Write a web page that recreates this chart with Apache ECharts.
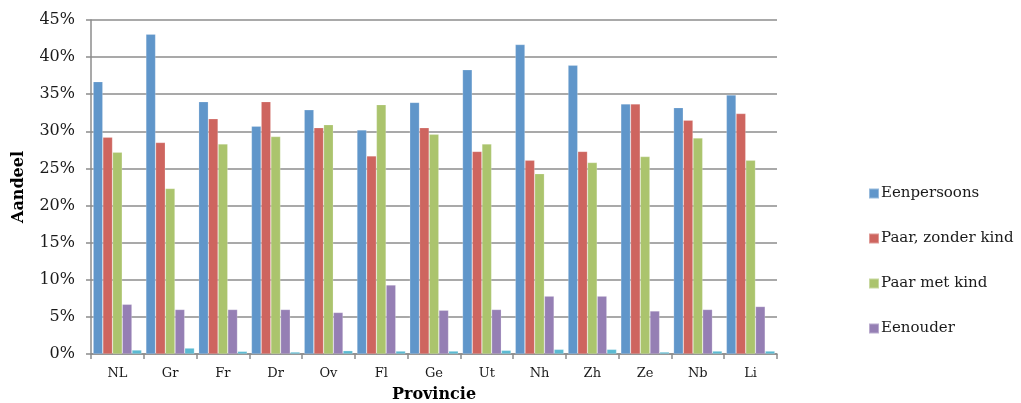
<!DOCTYPE html>
<html>
<head>
<meta charset="utf-8">
<script src="https://cdn.jsdelivr.net/npm/echarts@6/dist/echarts.min.js"></script>
<style>
  html, body { margin: 0; padding: 0; background: #fff; }
  #chart { width: 1021px; height: 403px; }
</style>
</head>
<body>
<div id="chart"></div>
<script>
// Huishoudtypen per provincie (aandeel in %)
const provincies = ['NL', 'Gr', 'Fr', 'Dr', 'Ov', 'Fl', 'Ge', 'Ut', 'Nh', 'Zh', 'Ze', 'Nb', 'Li'];
const eenpersoons = [36.7, 43.1, 34.0, 30.7, 32.9, 30.2, 33.9, 38.3, 41.7, 38.9, 33.7, 33.2, 34.9];
const paarZonderKind = [29.2, 28.5, 31.7, 34.0, 30.5, 26.7, 30.5, 27.3, 26.1, 27.3, 33.7, 31.5, 32.4];
const paarMetKind = [27.2, 22.3, 28.3, 29.3, 30.9, 33.6, 29.6, 28.3, 24.3, 25.8, 26.6, 29.1, 26.1];
const eenouder = [6.7, 6.0, 6.0, 6.0, 5.6, 9.3, 5.9, 6.0, 7.8, 7.8, 5.8, 6.0, 6.4];
const overig = [0.54, 0.8, 0.36, 0.27, 0.45, 0.4, 0.4, 0.5, 0.63, 0.63, 0.27, 0.4, 0.4];
const yTicks = [0, 5, 10, 15, 20, 25, 30, 35, 40, 45];

const font = '"DejaVu Serif", "Liberation Serif", serif';
const colors = ['#6096CA', '#CE655F', '#ABC46D', '#957FB4', '#5BBAD2'];

function bar(name, data, color) {
  return {
    name: name,
    type: 'bar',
    data: data,
    barGap: '0%',
    barCategoryGap: '8%',
    itemStyle: { color: color, borderColor: 'rgba(255,255,255,0.35)', borderWidth: 0.6 }
  };
}

const chart = echarts.init(document.getElementById('chart'), null, { renderer: 'canvas' });
chart.setOption({
  animation: false,
  backgroundColor: '#ffffff',
  grid: { left: 91, top: 20, right: 244, bottom: 49, containLabel: false, outerBoundsMode: 'none' },
  legend: {
    orient: 'vertical',
    left: 863,
    top: 181,
    itemWidth: 10,
    itemHeight: 10,
    itemGap: 30,
    icon: 'rect',
    data: ['Eenpersoons', 'Paar, zonder kind', 'Paar met kind', 'Eenouder'],
    textStyle: { fontFamily: font, fontSize: 15, color: '#1a1a1a', padding: [0, 0, 0, -3] }
  },
  xAxis: {
    type: 'category',
    data: provincies,
    name: 'Provincie',
    nameLocation: 'middle',
    nameGap: 33,
    nameTextStyle: { fontFamily: font, fontSize: 16, fontWeight: 'bold', color: '#000' },
    axisLine: { lineStyle: { color: '#8c8c8c', width: 1.5 } },
    axisTick: { show: true, length: 5, lineStyle: { color: '#8c8c8c', width: 1.5 } },
    axisLabel: { fontFamily: font, fontSize: 13, color: '#1a1a1a', margin: 13 }
  },
  yAxis: {
    type: 'value',
    min: yTicks[0],
    max: yTicks[yTicks.length - 1],
    interval: 5,
    name: 'Aandeel',
    nameLocation: 'middle',
    nameGap: 64,
    nameRotate: 90,
    nameTextStyle: { fontFamily: font, fontSize: 16, fontWeight: 'bold', color: '#000' },
    axisLine: { show: true, lineStyle: { color: '#8c8c8c', width: 1.5 } },
    axisTick: { show: true, length: 5, lineStyle: { color: '#8c8c8c', width: 1.5 } },
    splitLine: { lineStyle: { color: '#8c8c8c', width: 1.5 } },
    axisLabel: { fontFamily: font, fontSize: 16, color: '#1a1a1a', margin: 16, formatter: v => v + '%' }
  },
  series: [
    bar('Eenpersoons', eenpersoons, colors[0]),
    bar('Paar, zonder kind', paarZonderKind, colors[1]),
    bar('Paar met kind', paarMetKind, colors[2]),
    bar('Eenouder', eenouder, colors[3]),
    bar('Overig', overig, colors[4])
  ]
});
</script>
</body>
</html>
